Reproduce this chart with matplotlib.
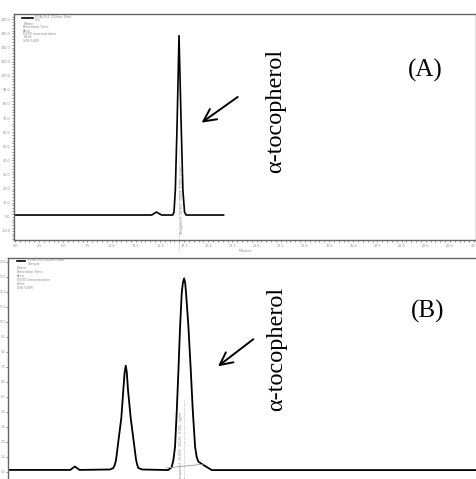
import matplotlib.pyplot as plt
import numpy as np

# ---- data ----
# (A) standard: retention time (min) vs detector signal (mAU)
time_a = [0.0, 14.15, 14.46, 14.66, 14.87, 15.18, 16.32, 16.45, 16.59, 16.78,
          16.97, 17.18, 17.37, 17.54, 17.71, 21.58]
sig_a = [1.2, 1.2, 2.6, 3.3, 2.3, 1.2, 1.2, 3.3, 19.0, 68.6,
         128.4, 68.6, 19.0, 3.3, 1.2, 1.2]

# (B) sample
time_b = [0.0, 5.3, 5.7, 6.1, 8.70, 8.98, 9.10, 9.21, 9.42, 9.66, 9.83, 9.94,
          10.04, 10.13, 10.23, 10.46, 10.70, 10.92, 11.02, 11.11, 11.43, 13.65,
          13.95, 14.10, 14.24, 14.39, 14.53, 14.67, 14.81, 14.91, 15.01, 15.10,
          15.18, 15.38, 15.58, 15.75, 15.95, 16.08, 16.23, 16.66, 17.37, 40.3]
sig_b = [0.12, 0.12, 0.35, 0.12, 0.15, 0.25, 0.45, 0.78, 2.11, 3.58, 5.45, 6.6,
         7.07, 6.6, 5.45, 3.58, 2.11, 0.78, 0.45, 0.25, 0.15, 0.11,
         0.3, 0.78, 1.67, 4.11, 6.78, 9.67, 11.91, 12.6, 12.89, 12.6,
         11.91, 9.67, 6.78, 4.11, 1.67, 1.0, 0.67, 0.45, 0.11, 0.11]

rt_a = 16.97
rt_b = 15.01
xticks_a = np.arange(0, 47.6, 2.5)
yticks_a = np.arange(-10, 141, 10)
yticks_b = np.arange(0, 15, 1)

legend_lines = ["Name", "Retention Time", "Area", "ESTD concentration",
                "Units", "S/N (USP)"]

serif = ["Liberation Serif", "DejaVu Serif"]
tiny = dict(fontsize=2.4, color="#8a8a8a")

fig = plt.figure(figsize=(4.77, 4.79), dpi=100)

# ---------------- panel A ----------------
axA = fig.add_axes([0.0294, 0.499, 0.9686, 0.4718])
axA.plot(time_a, sig_a, color="black", lw=1.2)
axA.set_xlim(-0.1, 47.7)
axA.set_ylim(-16.5, 143.8)
axA.set_xticks(xticks_a)
axA.set_xticklabels(["%.1f" % v for v in xticks_a], **tiny)
axA.set_yticks(yticks_a)
axA.set_yticklabels(["%.1f" % v for v in yticks_a], **tiny)
axA.minorticks_on()
axA.tick_params(which="both", length=1.5, width=0.5, pad=1.2, color="#666666")
axA.set_xlabel("Minutes", labelpad=1, **tiny)
for s in axA.spines.values():
    s.set_color("#666666")
    s.set_linewidth(1.0)

axA.plot([rt_a, rt_a], [-24, 50], color="#999999", lw=0.5, ls=":", clip_on=False)
axA.text(rt_a + 0.35, 12, "Tocopherol  16.967  10858  0.000  ug/ml",
         rotation=90, ha="center", va="center", clip_on=False, **tiny)

# legend block
axA.plot([0.018, 0.04], [0.982, 0.982], transform=axA.transAxes, color="black", lw=1.2)
axA.text(0.045, 0.986, "PDA-Ch1 292nm 4nm", transform=axA.transAxes, va="center", **tiny)
axA.text(0.045, 0.972, "Std", transform=axA.transAxes, va="center", **tiny)
for i, t in enumerate(legend_lines):
    axA.text(0.02, 0.955 - i * 0.0145, t, transform=axA.transAxes, va="center", **tiny)

axA.text(0.567, 0.57, "\u03b1-tocopherol", transform=axA.transAxes, rotation=90,
         ha="center", va="center", fontsize=17.5, family=serif)
axA.text(0.89, 0.75, "(A)", transform=axA.transAxes, ha="center", va="center",
         fontsize=18, family=serif)
axA.annotate("", xy=(0.401, 0.512), xytext=(0.489, 0.64), xycoords="axes fraction",
             arrowprops=dict(arrowstyle="->,head_length=0.9,head_width=0.45",
                             lw=1.4, color="black"))

# ---------------- panel B ----------------
axB = fig.add_axes([0.0168, -0.0271, 0.99, 0.4885])
axB.plot(time_b, sig_b, color="black", lw=1.3)
axB.set_xlim(0, 40.26)
axB.set_ylim(-1.35, 14.25)
axB.set_yticks(yticks_b)
axB.set_yticklabels(["%.1f" % v for v in yticks_b], fontsize=2.1, color="#8a8a8a")
axB.set_xticks([])
axB.tick_params(which="both", length=1.2, width=0.5, pad=0.5, color="#666666")
axB.spines["right"].set_visible(False)
for s in ["left", "top", "bottom"]:
    axB.spines[s].set_color("#666666")
    axB.spines[s].set_linewidth(1.0)

# integration baseline + retention marker
axB.plot([13.48, 16.63], [0.25, 0.5], color="#999999", lw=0.6)
axB.plot([rt_b, rt_b], [-1.3, 4.8], color="#999999", lw=0.5, ls=":")
axB.text(rt_b - 0.3, 1.7, "Tocopherol  15.008  34126  0.000  ug/ml",
         rotation=90, ha="center", va="center", **tiny)

axB.plot([0.019, 0.036], [0.985, 0.985], transform=axB.transAxes, color="black", lw=1.2)
axB.text(0.042, 0.99, "PDA-Ch1 292nm 4nm", transform=axB.transAxes, va="center", **tiny)
axB.text(0.042, 0.975, "Sample", transform=axB.transAxes, va="center", **tiny)
for i, t in enumerate(legend_lines):
    axB.text(0.019, 0.956 - i * 0.0165, t, transform=axB.transAxes, va="center", **tiny)

axB.text(0.568, 0.61, "\u03b1-tocopherol", transform=axB.transAxes, rotation=90,
         ha="center", va="center", fontsize=17.5, family=serif)
axB.text(0.889, 0.77, "(B)", transform=axB.transAxes, ha="center", va="center",
         fontsize=18, family=serif)
axB.annotate("", xy=(0.44, 0.53), xytext=(0.524, 0.66), xycoords="axes fraction",
             arrowprops=dict(arrowstyle="->,head_length=0.9,head_width=0.45",
                             lw=1.4, color="black"))

fig.savefig("out.png", dpi=100)
